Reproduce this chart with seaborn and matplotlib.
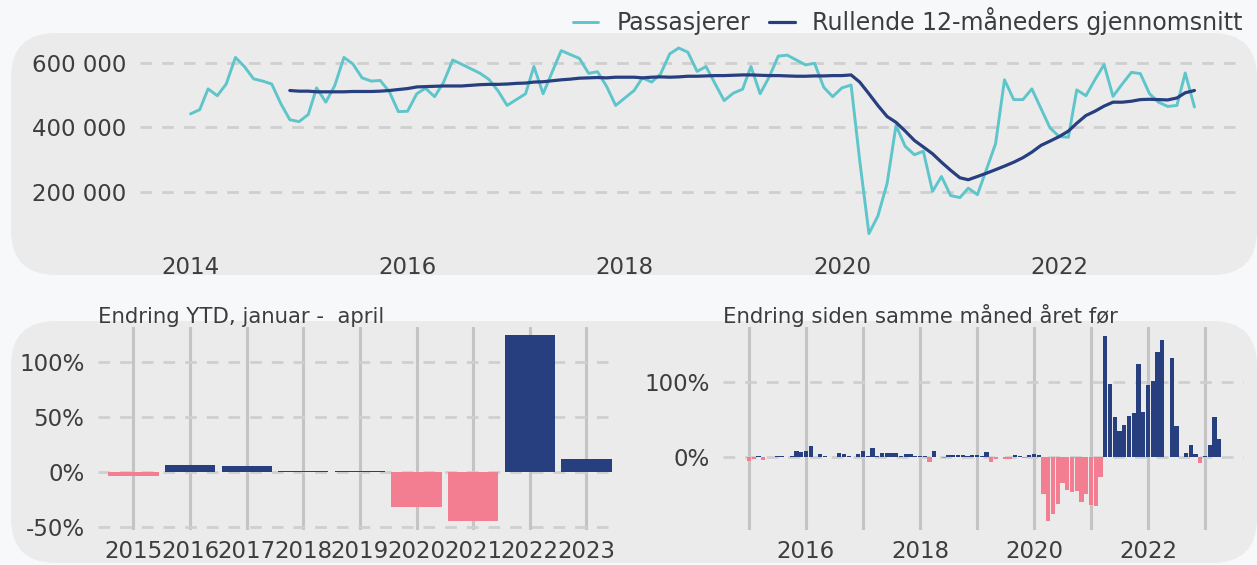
import numpy as np
import pandas as pd
import matplotlib
matplotlib.use("Agg")
import matplotlib.pyplot as plt
import matplotlib.dates as mdates
from matplotlib.patches import FancyBboxPatch
from matplotlib.transforms import IdentityTransform
from matplotlib.ticker import FuncFormatter, FixedLocator, MultipleLocator
import seaborn as sns

# ---------------- data ----------------
months = pd.date_range("2014-01-01", "2023-04-01", freq="MS")
passasjerer = [
    442000, 455000, 519000, 498000, 534000, 616000, 588000, 550000, 543000, 534000, 473000, 424000,  # 2014
    418000, 440000, 522000, 478000, 529000, 616000, 596000, 553000, 543000, 545000, 510000, 449000,  # 2015
    450000, 504000, 521000, 495000, 539000, 608000, 595000, 581000, 567000, 548000, 512000, 468000,  # 2016
    486000, 504000, 588000, 504000, 570000, 637000, 625000, 613000, 567000, 572000, 526000, 468000,  # 2017
    491000, 514000, 553000, 540000, 565000, 627000, 645000, 632000, 573000, 588000, 534000, 483000,  # 2018
    506000, 518000, 588000, 504000, 555000, 620000, 623000, 608000, 593000, 598000, 524000, 495000,  # 2019
    522000, 531000, 298000, 73000, 127000, 227000, 406000, 342000, 316000, 327000, 203000, 249000,   # 2020
    190000, 184000, 213000, 193000, 270000, 350000, 547000, 486000, 486000, 519000, 458000, 399000,  # 2021
    372000, 370000, 516000, 498000, 547000, 594000, 496000, 534000, 570000, 566000, 504000, 478000,  # 2022
    465000, 468000, 568000, 463000,                                                                  # 2023
]
rolling_months = pd.date_range("2014-12-01", "2023-04-01", freq="MS")
rullende = [
    514000,                                                                                          # 2014
    512000, 512000, 510000, 510000, 510000, 510000, 511000, 511000, 511000, 512000, 514000, 517000,  # 2015
    520000, 525000, 526000, 527000, 528000, 528000, 528000, 530000, 532000, 533000, 533000, 534000,  # 2016
    536000, 537000, 540000, 541000, 544000, 547000, 549000, 552000, 553000, 554000, 553000, 555000,  # 2017
    555000, 555000, 553000, 555000, 556000, 555000, 556000, 558000, 558000, 559000, 560000, 560000,  # 2018
    561000, 562000, 562000, 561000, 560000, 560000, 559000, 558000, 558000, 559000, 559000, 560000,  # 2019
    560000, 562000, 540000, 504000, 468000, 434000, 416000, 389000, 360000, 340000, 319000, 293000,  # 2020
    268000, 245000, 239000, 249000, 259000, 270000, 281000, 293000, 307000, 324000, 345000, 358000,  # 2021
    372000, 389000, 413000, 437000, 450000, 466000, 478000, 478000, 481000, 486000, 487000, 486000,  # 2022
    485000, 491000, 507000, 514000,                                                                  # 2023
]

ytd_years = ["2015", "2016", "2017", "2018", "2019", "2020", "2021", "2022", "2023"]
ytd_change = [-3.5, 6.4, 5.5, 0.6, 0.9, -32.4, -45.0, 124.5, 11.8]

yoy_months = pd.date_range("2015-01-01", "2023-04-01", freq="MS")
yoy_change = [
    -6.0, -3.0, 1.0, -5.0, -1.0, -0.5, 1.3, 0.5, -0.5, 1.3, 8.0, 6.6,          # 2015
    8.0, 14.6, -1.0, 4.0, 1.3, -0.5, -0.5, 5.3, 4.0, 0.5, -0.5, 4.0,            # 2016
    8.0, 0.5, 12.0, 1.3, 5.3, 5.3, 5.3, 5.3, 0.5, 4.0, 4.0, 0.5,                # 2017
    1.3, 0.9, -7.5, 8.0, -0.5, -2.2, 2.7, 2.7, 1.8, 2.7, 0.5, 2.7,              # 2018
    2.7, 1.3, 6.6, -7.5, -3.5, -0.5, -3.5, -3.5, 2.7, 1.3, -2.2, 2.7,           # 2019
    4.0, 2.7, -50.4, -86.0, -76.5, -63.0, -35.4, -44.7, -47.3, -46.0, -60.6, -50.0,  # 2020
    -64.6, -66.0, -27.0, 162.0, 97.0, 53.0, 35.0, 42.5, 54.5, 58.5, 125.0, 60.0,     # 2021
    95.6, 101.0, 140.5, 156.5, np.nan, 132.6, 41.4, np.nan, 4.4, 16.3, 3.1, -8.4,     # 2022
    0.9, 16.3, 53.3, 24.2,                                                            # 2023
]

# ---------------- style ----------------
CYAN = "#5EC5CB"
NAVY = "#273F7E"
PINK = "#F47E91"
TXT = "#3D3D3D"
PANEL = "#EBEBEB"
FIGBG = "#F7F8FA"
HGRID = "#CFCFCF"
VGRID = "#C4C4C4"
FS = 16.5
FS_LEG = 17
FS_TITLE = 15.3

sns.set_theme(style="white")
plt.rcParams["font.family"] = ["DejaVu Sans"]
plt.rcParams["axes.unicode_minus"] = False

W, H = 1257, 565
fig = plt.figure(figsize=(W / 100, H / 100), dpi=100, facecolor=FIGBG)

# rounded background panels (pixel coordinates)
for (x0, ytop, x1, ybot) in [(11, 33, 1257, 275), (11, 321, 1257, 563)]:
    p = FancyBboxPatch((x0, H - ybot), x1 - x0, ybot - ytop,
                       boxstyle="round,pad=0,rounding_size=45",
                       transform=IdentityTransform(), facecolor=PANEL,
                       edgecolor="none", zorder=-5)
    fig.patches.append(p)


def px_axes(left, top, right, bottom):
    return fig.add_axes([left / W, 1 - bottom / H, (right - left) / W, (bottom - top) / H])


ax_top = px_axes(140, 38.6, 1245, 243)
ax_bl = px_axes(98.4, 326.7, 611.5, 530)
ax_br = px_axes(723.3, 326.7, 1244.4, 530)

for ax in (ax_top, ax_bl, ax_br):
    ax.set_facecolor("none")
    ax.set_zorder(2)
    for s in ax.spines.values():
        s.set_visible(False)
    ax.tick_params(length=0, labelsize=FS, labelcolor=TXT)

hdash = (0, (4.2, 3.6))

# ---------------- top panel ----------------
df_top = pd.DataFrame({"Måned": months, "Passasjerer": passasjerer})
df_roll = pd.DataFrame({"Måned": rolling_months, "Rullende": rullende})
sns.lineplot(data=df_top, x="Måned", y="Passasjerer", ax=ax_top, color=CYAN,
             lw=2.1, label="Passasjerer")
sns.lineplot(data=df_roll, x="Måned", y="Rullende", ax=ax_top, color=NAVY,
             lw=2.3, label="Rullende 12-måneders gjennomsnitt")
ax_top.set_xlim(months[0] - pd.Timedelta(days=170), months[-1] + pd.Timedelta(days=170))
ax_top.set_ylim(44000, 674000)
ax_top.yaxis.set_major_locator(MultipleLocator(200000))
ax_top.yaxis.set_major_formatter(FuncFormatter(lambda v, _: f"{v:,.0f}".replace(",", " ")))
ax_top.xaxis.set_major_locator(mdates.YearLocator(base=2))
ax_top.xaxis.set_major_formatter(mdates.DateFormatter("%Y"))
ax_top.grid(axis="y", color=HGRID, lw=2, linestyle=hdash)
ax_top.grid(axis="x", visible=False)
ax_top.set_xlabel("")
ax_top.set_ylabel("")
ax_top.tick_params(axis="y", pad=10)
ax_top.tick_params(axis="x", pad=9)
handles, labels = ax_top.get_legend_handles_labels()
ax_top.get_legend().remove()
fig.legend(handles, labels, loc="center right", bbox_to_anchor=(1243 / W, 1 - 21 / H),
           ncol=2, frameon=False, fontsize=FS_LEG, labelcolor=TXT, handlelength=1.1,
           handletextpad=0.75, columnspacing=0.8, borderaxespad=0, borderpad=0)

# ---------------- bottom left ----------------
df_ytd = pd.DataFrame({"År": ytd_years, "Endring": ytd_change})
df_ytd["Retning"] = np.where(df_ytd["Endring"] >= 0, "opp", "ned")
sns.barplot(data=df_ytd, x="År", y="Endring", hue="Retning",
            palette={"opp": NAVY, "ned": PINK}, dodge=False, width=0.89,
            saturation=1, legend=False, ax=ax_bl, zorder=3,
            linewidth=0, edgecolor="none")
ax_bl.set_xlim(-0.62, 8.445)
ax_bl.set_ylim(-53, 132.5)
ax_bl.yaxis.set_major_locator(MultipleLocator(50))
ax_bl.yaxis.set_major_formatter(FuncFormatter(lambda v, _: f"{v:.0f}%"))
ax_bl.set_axisbelow(True)
ax_bl.grid(axis="y", color=HGRID, lw=2, linestyle=hdash)
ax_bl.grid(axis="x", color=VGRID, lw=2.2, linestyle="-")
ax_bl.set_xlabel("")
ax_bl.set_ylabel("")
ax_bl.tick_params(axis="y", pad=10)
ax_bl.tick_params(axis="x", pad=7)
ax_bl.set_title("Endring YTD, januar -  april", loc="left", pad=3, fontsize=FS_TITLE, color=TXT)

# ---------------- bottom right ----------------
df_yoy = pd.DataFrame({"Måned": yoy_months.strftime("%Y-%m"), "Endring": yoy_change})
df_yoy["Retning"] = np.where(df_yoy["Endring"] >= 0, "opp", "ned")
sns.barplot(data=df_yoy, x="Måned", y="Endring", hue="Retning",
            palette={"opp": NAVY, "ned": PINK}, dodge=False, width=0.9,
            saturation=1, legend=False, ax=ax_br, zorder=3,
            linewidth=0, edgecolor="none")
jan_pos = [i for i, m in enumerate(yoy_months) if m.month == 1]
jan_lab = [str(m.year) if m.year % 2 == 0 else "" for m in yoy_months if m.month == 1]
ax_br.xaxis.set_major_locator(FixedLocator(jan_pos))
ax_br.set_xticklabels(jan_lab)
ax_br.set_xlim(-5.4, 104.3)
ax_br.set_ylim(-98.4, 174.4)
ax_br.yaxis.set_major_locator(FixedLocator([0, 100]))
ax_br.yaxis.set_major_formatter(FuncFormatter(lambda v, _: f"{v:.0f}%"))
ax_br.set_axisbelow(True)
ax_br.grid(axis="y", color=HGRID, lw=2, linestyle=hdash)
ax_br.grid(axis="x", color=VGRID, lw=2.2, linestyle="-")
ax_br.set_xlabel("")
ax_br.set_ylabel("")
ax_br.tick_params(axis="y", pad=10)
ax_br.tick_params(axis="x", pad=7)
ax_br.set_title("Endring siden samme måned året før", loc="left", pad=3, fontsize=FS_TITLE, color=TXT)

fig.savefig("out.png", dpi=100, facecolor=FIGBG)
